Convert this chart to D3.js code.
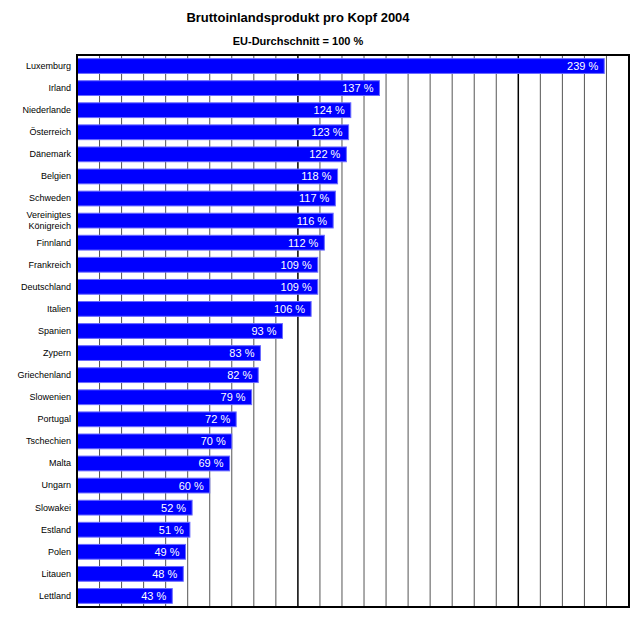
<!DOCTYPE html>
<html>
<head>
<meta charset="utf-8">
<script src="https://cdn.jsdelivr.net/npm/d3@7"></script>
<style>
  body { margin: 0; background: #fff; }
  svg { display: block; font-family: "Liberation Sans", Arial, sans-serif; }
</style>
</head>
<body>
<svg id="chart" width="640" height="618"></svg>
<script>
const countries = ["Luxemburg","Irland","Niederlande","Österreich","Dänemark","Belgien","Schweden","Vereinigtes Königreich","Finnland","Frankreich","Deutschland","Italien","Spanien","Zypern","Griechenland","Slowenien","Portugal","Tschechien","Malta","Ungarn","Slowakei","Estland","Polen","Litauen","Lettland"];
const values = [239,137,124,123,122,118,117,116,112,109,109,106,93,83,82,79,72,70,69,60,52,51,49,48,43];
const gridTicks = d3.range(10, 250, 10);
const title = "Bruttoinlandsprodukt pro Kopf 2004";
const subtitle = "EU-Durchschnitt = 100 %";

const svg = d3.select("#chart");
const pLeft = 77.5, pRight = 628.5, pTop = 55, pBottom = 607;

const x = d3.scaleLinear().domain([0, 250]).range([pLeft, pRight]);
const y = d3.scaleBand().domain(countries).range([pTop, pBottom]).paddingInner(0.33).paddingOuter(0.165);

svg.append("text").attr("x", 298).attr("y", 22).attr("text-anchor", "middle")
  .attr("font-size", 13).attr("font-weight", "bold").text(title);
svg.append("text").attr("x", 298).attr("y", 45).attr("text-anchor", "middle")
  .attr("font-size", 11).attr("font-weight", "bold").text(subtitle);

// grid lines
svg.append("g").selectAll("line").data(gridTicks).join("line")
  .attr("x1", d => x(d)).attr("x2", d => x(d))
  .attr("y1", pTop).attr("y2", pBottom)
  .attr("stroke", d => d % 100 === 0 ? "#000" : "#555")
  .attr("stroke-width", d => d % 100 === 0 ? 1.5 : 1);

// bars
svg.append("g").selectAll("rect").data(countries).join("rect")
  .attr("x", x(0))
  .attr("y", d => y(d))
  .attr("width", (d, i) => x(values[i]) - x(0))
  .attr("height", y.bandwidth())
  .attr("fill", "#0000ff")
  .attr("stroke", "#6a6aff")
  .attr("stroke-width", 1);

// value labels
svg.append("g").selectAll("text").data(countries).join("text")
  .attr("x", (d, i) => x(values[i]) - 6)
  .attr("y", d => y(d) + y.bandwidth() / 2)
  .attr("dy", "0.36em")
  .attr("text-anchor", "end")
  .attr("fill", "#fff")
  .attr("font-size", 11)
  .text((d, i) => values[i] + " %");

// category axis
const yAxis = d3.axisLeft(y).tickSize(0).tickPadding(6);
const ag = svg.append("g").attr("transform", `translate(${pLeft - 0.5},0)`).call(yAxis);
ag.select(".domain").remove();
ag.selectAll("text").attr("font-size", 9).attr("font-family", null).attr("fill", "#000")
  .each(function(d) {
    const t = d3.select(this);
    if (d === "Vereinigtes Königreich") {
      t.text(null);
      t.append("tspan").attr("x", -6).attr("dy", "-0.25em").text("Vereinigtes");
      t.append("tspan").attr("x", -6).attr("dy", "1.2em").text("Königreich");
    }
  });

// frame
svg.append("rect").attr("x", 77).attr("y", pTop).attr("width", 552).attr("height", pBottom - pTop)
  .attr("fill", "none").attr("stroke", "#000").attr("stroke-width", 2);
</script>
</body>
</html>
